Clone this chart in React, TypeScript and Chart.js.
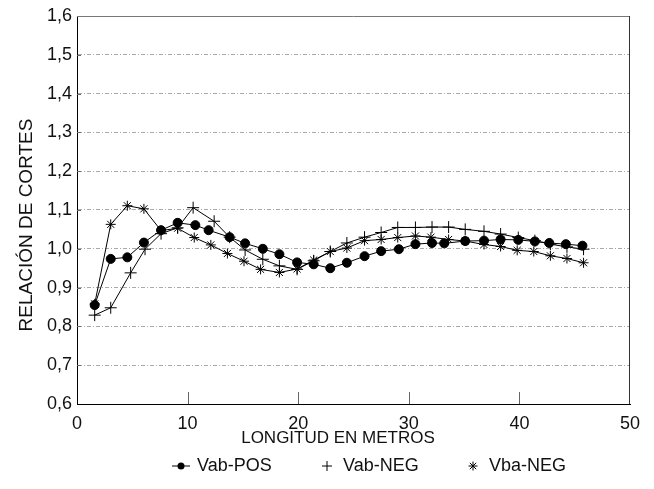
import React, { useEffect, useRef } from 'react';
import { Chart, registerables } from 'chart.js';

Chart.register(...registerables);

const FONT = "'Liberation Sans', Arial, sans-serif";

// Vab-POS (circles)
const posX = [1.6, 3.05, 4.55, 6.05, 7.6, 9.1, 10.7, 11.9, 13.8, 15.2, 16.8, 18.3, 19.9, 21.4, 22.9, 24.4, 26.0, 27.5, 29.1, 30.6, 32.1, 33.2, 35.1, 36.8, 38.3, 39.9, 41.4, 42.7, 44.2, 45.7];
const posY = [0.855, 0.974, 0.978, 1.016, 1.048, 1.067, 1.061, 1.048, 1.030, 1.014, 1.000, 0.986, 0.965, 0.960, 0.950, 0.964, 0.981, 0.994, 0.999, 1.012, 1.015, 1.014, 1.020, 1.021, 1.024, 1.023, 1.019, 1.015, 1.012, 1.008];

// Vab-NEG (plus)
const vabNegX = [1.6, 3.05, 4.85, 6.15, 7.6, 9.1, 10.5, 12.4, 13.8, 15.2, 16.8, 18.3, 19.9, 21.4, 22.9, 24.4, 26.0, 27.5, 29.0, 30.6, 32.1, 33.6, 35.1, 36.8, 38.3, 39.9, 41.4, 42.8, 44.3, 45.8];
const vabNegY = [0.829, 0.848, 0.938, 0.999, 1.039, 1.054, 1.106, 1.071, 1.030, 0.997, 0.973, 0.956, 0.947, 0.969, 0.993, 1.015, 1.030, 1.042, 1.055, 1.055, 1.056, 1.056, 1.050, 1.045, 1.038, 1.029, 1.021, 1.012, 1.005, 0.999];

// Vba-NEG (asterisk)
const vbaNegX = [1.6, 3.05, 4.55, 6.05, 7.6, 9.1, 10.6, 12.1, 13.6, 15.1, 16.6, 18.3, 19.9, 21.4, 22.9, 24.4, 26.0, 27.5, 29.0, 30.6, 32.0, 33.6, 35.1, 36.8, 38.3, 39.8, 41.3, 42.8, 44.3, 45.8];
const vbaNegY = [0.858, 1.063, 1.111, 1.103, 1.047, 1.053, 1.029, 1.010, 0.988, 0.968, 0.947, 0.939, 0.948, 0.971, 0.993, 1.002, 1.021, 1.024, 1.029, 1.033, 1.030, 1.024, 1.020, 1.011, 1.006, 0.996, 0.993, 0.982, 0.975, 0.964];

const seriesLabels = ['Vab-POS', 'Vab-NEG', 'Vba-NEG'];
const xTickValues = [0, 10, 20, 30, 40, 50];
const yTickValues = [0.6, 0.7, 0.8, 0.9, 1.0, 1.1, 1.2, 1.3, 1.4, 1.5, 1.6];
const yTickLabels = ['0,6', '0,7', '0,8', '0,9', '1,0', '1,1', '1,2', '1,3', '1,4', '1,5', '1,6'];
const xTitle = 'LONGITUD EN METROS';
const yTitle = 'RELACIÓN DE CORTES';

const toPoints = (xs: number[], ys: number[]) => xs.map((x, i) => ({ x, y: ys[i] }));

const framePlugin = {
  id: 'frame',
  beforeDatasetsDraw(chart: any) {
    const { ctx, chartArea } = chart;
    const { left, right, top, bottom } = chartArea;
    const xs = chart.scales.x;
    const ys = chart.scales.y;
    ctx.save();
    ctx.lineWidth = 1;
    ctx.strokeStyle = '#777';
    ctx.beginPath();
    ctx.moveTo(left, top + 0.5);
    ctx.lineTo(right, top + 0.5);
    ctx.stroke();
    ctx.strokeStyle = '#333';
    ctx.beginPath();
    ctx.moveTo(right - 0.5, top);
    ctx.lineTo(right - 0.5, bottom);
    ctx.stroke();
    ctx.strokeStyle = '#666';
    xTickValues.slice(1, -1).forEach((v) => {
      const px = Math.round(xs.getPixelForValue(v)) + 0.5;
      ctx.beginPath();
      ctx.moveTo(px, bottom);
      ctx.lineTo(px, bottom - 12);
      ctx.stroke();
    });
    yTickValues.slice(1, -1).forEach((v) => {
      const py = Math.round(ys.getPixelForValue(v)) + 0.5;
      ctx.beginPath();
      ctx.moveTo(left, py);
      ctx.lineTo(left + 4, py);
      ctx.stroke();
    });
    ctx.restore();
  },
};

const titlesPlugin = {
  id: 'axisTitles',
  afterDraw(chart: any) {
    const { ctx, chartArea } = chart;
    ctx.save();
    ctx.fillStyle = '#111';
    ctx.textAlign = 'center';
    ctx.textBaseline = 'middle';
    ctx.font = `17px ${FONT}`;
    ctx.fillText(xTitle, chart.width / 2 + 11, chartArea.bottom + 34);
    ctx.translate(27, (chartArea.top + chartArea.bottom) / 2 + 15);
    ctx.rotate(-Math.PI / 2);
    ctx.font = `19px ${FONT}`;
    ctx.fillText(yTitle, 0, 0);
    ctx.restore();
  },
};

const legendPlugin = {
  id: 'bottomLegend',
  afterDraw(chart: any) {
    const { ctx, chartArea } = chart;
    const y = chartArea.bottom + 62;
    const center = chart.width / 2;
    const colW = 146;
    ctx.save();
    ctx.font = `18px ${FONT}`;
    ctx.fillStyle = '#111';
    ctx.textBaseline = 'middle';
    ctx.textAlign = 'left';
    ctx.strokeStyle = '#000';
    ctx.lineWidth = 1;
    chart.data.datasets.forEach((ds: any, i: number) => {
      const cx = center + (i - 1) * colW;
      if (ds.pointStyle === 'circle') {
        ctx.beginPath();
        ctx.moveTo(cx - 9, y);
        ctx.lineTo(cx + 9, y);
        ctx.stroke();
        ctx.beginPath();
        ctx.arc(cx, y, 3.5, 0, Math.PI * 2);
        ctx.fillStyle = '#000';
        ctx.fill();
      } else if (ds.pointStyle === 'cross') {
        ctx.beginPath();
        ctx.moveTo(cx - 5, y);
        ctx.lineTo(cx + 5, y);
        ctx.moveTo(cx, y - 5);
        ctx.lineTo(cx, y + 5);
        ctx.stroke();
      } else {
        const r = 4.5;
        const d = r * Math.SQRT1_2;
        ctx.beginPath();
        ctx.moveTo(cx - r, y);
        ctx.lineTo(cx + r, y);
        ctx.moveTo(cx, y - r);
        ctx.lineTo(cx, y + r);
        ctx.moveTo(cx - d, y - d);
        ctx.lineTo(cx + d, y + d);
        ctx.moveTo(cx - d, y + d);
        ctx.lineTo(cx + d, y - d);
        ctx.stroke();
      }
      ctx.fillStyle = '#111';
      ctx.fillText(ds.label, cx + 16, y);
    });
    ctx.restore();
  },
};

export default function App() {
  const canvasRef = useRef<HTMLCanvasElement | null>(null);

  useEffect(() => {
    if (!canvasRef.current) return;
    const common = {
      borderColor: '#000',
      borderWidth: 1,
      pointBackgroundColor: '#000',
      pointBorderColor: '#000',
      pointBorderWidth: 1,
      tension: 0,
      fill: false,
    };
    const chart = new Chart(canvasRef.current, {
      type: 'line',
      data: {
        datasets: [
          { ...common, label: seriesLabels[0], data: toPoints(posX, posY), pointStyle: 'circle', pointRadius: 4.5 },
          { ...common, label: seriesLabels[1], data: toPoints(vabNegX, vabNegY), pointStyle: 'cross', pointRadius: 6 },
          { ...common, label: seriesLabels[2], data: toPoints(vbaNegX, vbaNegY), pointStyle: 'star', pointRadius: 5 },
        ],
      },
      options: {
        animation: false,
        responsive: true,
        maintainAspectRatio: false,
        layout: { padding: { left: 0, right: 24, top: 16, bottom: 40 } },
        plugins: {
          legend: { display: false },
          tooltip: { enabled: false },
        },
        scales: {
          x: {
            type: 'linear',
            min: 0,
            max: 50,
            afterBuildTicks: (axis: any) => {
              axis.ticks = xTickValues.map((v) => ({ value: v }));
            },
            afterFit: (axis: any) => {
              axis.height = 45;
            },
            ticks: {
              padding: 1,
              color: '#111',
              font: { family: FONT, size: 18 },
              callback: (v: any) => String(v),
              maxRotation: 0,
            },
            grid: { display: false },
            border: { display: true, color: '#000', width: 1 },
            title: { display: false, text: xTitle },
          },
          y: {
            type: 'linear',
            min: 0.6,
            max: 1.6,
            afterBuildTicks: (axis: any) => {
              axis.ticks = yTickValues.map((v) => ({ value: v }));
            },
            afterFit: (axis: any) => {
              axis.width = 77;
            },
            ticks: {
              padding: 5,
              color: '#111',
              font: { family: FONT, size: 18 },
              callback: (_v: any, i: number) => yTickLabels[i],
            },
            grid: { color: '#aaa', lineWidth: 1, drawTicks: false },
            border: { display: true, color: '#000', width: 1, dash: [4, 2, 1, 2] },
            title: { display: false, text: yTitle },
          },
        },
      },
      plugins: [framePlugin, titlesPlugin, legendPlugin],
    } as any);
    return () => chart.destroy();
  }, []);

  return (
    <div style={{ position: 'fixed', left: 0, top: 0, width: 654, height: 489, background: '#fff' }}>
      <canvas ref={canvasRef} />
    </div>
  );
}
